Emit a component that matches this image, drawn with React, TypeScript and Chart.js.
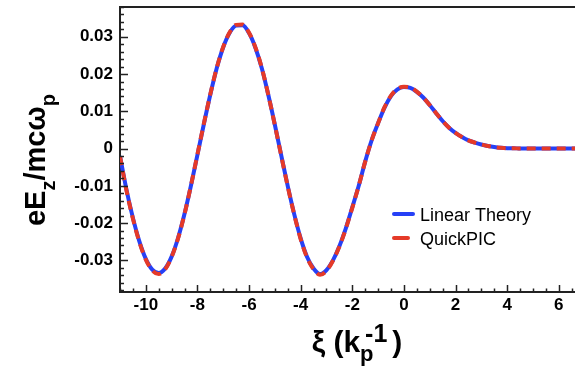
import { useEffect, useRef } from "react";
import { Chart, registerables } from "chart.js";

Chart.register(...registerables);

// Longitudinal position xi (units of 1/kp)
const xi = [
  -11, -10.75, -10.5, -10.25, -10, -9.75, -9.5, -9.25, -9, -8.75, -8.5, -8.25,
  -8, -7.75, -7.5, -7.25, -7, -6.75, -6.5, -6.25, -6, -5.75, -5.5, -5.25,
  -5, -4.75, -4.5, -4.25, -4, -3.75, -3.5, -3.25, -3, -2.75, -2.5, -2.25,
  -2, -1.75, -1.5, -1.25, -1, -0.75, -0.5, -0.25, 0, 0.25, 0.5, 0.75,
  1, 1.25, 1.5, 1.75, 2, 2.25, 2.5, 2.75, 3, 3.25, 3.5, 3.75,
  4, 4.25, 4.5, 4.75, 5, 5.25, 5.5, 5.75, 6, 6.25, 6.5, 6.75,
];

// Normalised longitudinal field eEz/mcωp
const linearTheory = [
  -0.002, -0.011, -0.0186, -0.0249, -0.0296, -0.0325, -0.0334, -0.0322, -0.029, -0.024, -0.0175, -0.0099,
  -0.0017, 0.0066, 0.0145, 0.0216, 0.0272, 0.0311, 0.033, 0.0331, 0.031, 0.027, 0.0214, 0.0143,
  0.0064, -0.0019, -0.0101, -0.0176, -0.0241, -0.0291, -0.0322, -0.0337, -0.0326, -0.03, -0.0262, -0.0214,
  -0.0158, -0.01, -0.0035, 0.0022, 0.0068, 0.011, 0.0141, 0.0159, 0.0165, 0.0163, 0.0152, 0.0137,
  0.0117, 0.0095, 0.0074, 0.0056, 0.0042, 0.0031, 0.0022, 0.0016, 0.0011, 0.0007, 0.0004, 0.0002,
  0.0001, 0.0001, 0, 0, 0, 0, 0, 0, 0, 0, 0, 0,
];

const quickPIC = [
  -0.0021, -0.0112, -0.0188, -0.0251, -0.0298, -0.0327, -0.0337, -0.0324, -0.0291, -0.0241, -0.0176, -0.0099,
  -0.0016, 0.0067, 0.0146, 0.0217, 0.0273, 0.0312, 0.0332, 0.0333, 0.0311, 0.0271, 0.0215, 0.0143,
  0.0063, -0.002, -0.0102, -0.0177, -0.0243, -0.0293, -0.0324, -0.0339, -0.0328, -0.0301, -0.0263, -0.0215,
  -0.0159, -0.01, -0.0035, 0.0022, 0.0068, 0.0111, 0.0142, 0.016, 0.0166, 0.0164, 0.0153, 0.0137,
  0.0117, 0.0095, 0.0074, 0.0056, 0.0042, 0.0031, 0.0022, 0.0016, 0.0011, 0.0007, 0.0004, 0.0002,
  0.0001, 0.0001, 0, 0, 0, 0, 0, 0, 0, 0, 0, 0,
];

const seriesNames = ["Linear Theory", "QuickPIC"];
const xTickValues = [-10, -8, -6, -4, -2, 0, 2, 4, 6];
const yTickValues = [-0.03, -0.02, -0.01, 0, 0.01, 0.02, 0.03];

const X_MIN = -11;
const X_MAX = 6.63;
const Y_MIN = -0.0385;
const Y_MAX = 0.038;

const BLUE = "rgb(38, 64, 246)";
const RED = "rgb(229, 58, 40)";
const AXIS = "#222";
const FONT = '"Liberation Sans", Arial, Helvetica, sans-serif';

type Piece = { t: string; size: number; dy: number; x: number };

// Lays out a label made of main text, subscripts and superscripts.
function drawPieces(ctx: CanvasRenderingContext2D, pieces: Piece[]) {
  for (const p of pieces) {
    ctx.font = `bold ${p.size}px ${FONT}`;
    ctx.fillText(p.t, p.x, p.dy);
  }
}

const decorations = {
  id: "decorations",
  afterDraw(chart: any) {
    const { ctx, chartArea: a, scales } = chart;
    const xs = scales.x;
    const ys = scales.y;
    ctx.save();

    // top frame line
    ctx.strokeStyle = AXIS;
    ctx.lineWidth = 2;
    ctx.beginPath();
    ctx.moveTo(a.left - 1, a.top);
    ctx.lineTo(a.right + 2, a.top);
    ctx.stroke();

    // inward tick marks
    ctx.lineWidth = 1.5;
    ctx.beginPath();
    for (let k = -22; k <= 13; k++) {
      const v = k / 2;
      if (v < X_MIN || v > X_MAX) continue;
      const px = Math.round(xs.getPixelForValue(v)) + 0.5;
      const len = xTickValues.includes(v) ? 7 : 3.5;
      ctx.moveTo(px, a.bottom);
      ctx.lineTo(px, a.bottom - len);
    }
    for (let k = -19; k <= 19; k++) {
      const v = k / 500;
      if (v < Y_MIN || v > Y_MAX) continue;
      const py = Math.round(ys.getPixelForValue(v)) + 0.5;
      const len = k % 5 === 0 ? 8 : 4;
      ctx.moveTo(a.left, py);
      ctx.lineTo(a.left + len, py);
    }
    ctx.stroke();

    // x-axis title: ξ (kp^-1)
    ctx.fillStyle = "#000";
    ctx.textBaseline = "alphabetic";
    ctx.textAlign = "left";
    {
      const main = 30;
      const sub = 22;
      const sup = 25;
      ctx.font = `bold ${main}px ${FONT}`;
      const w1 = ctx.measureText("ξ (k").width;
      const w2 = ctx.measureText(")").width;
      ctx.font = `bold ${sub}px ${FONT}`;
      const ws = ctx.measureText("p").width;
      ctx.font = `bold ${sup}px ${FONT}`;
      const wsup = ctx.measureText("-1").width;
      const gap = Math.max(ws, 5 + wsup) + 5;
      const total = w1 + gap + w2;
      const x0 = 357 - total / 2;
      ctx.save();
      ctx.translate(0, 352);
      drawPieces(ctx, [
        { t: "ξ (k", size: main, dy: 0, x: x0 },
        { t: "p", size: sub, dy: 9, x: x0 + w1 },
        { t: "-1", size: sup, dy: -10, x: x0 + w1 + 5 },
        { t: ")", size: main, dy: 0, x: x0 + w1 + gap },
      ]);
      ctx.restore();
    }

    // y-axis title: eEz/mcωp
    {
      const main = 29;
      const small = 20;
      ctx.font = `bold ${main}px ${FONT}`;
      const wa = ctx.measureText("eE").width;
      const wb = ctx.measureText("/mcω").width;
      ctx.font = `bold ${small}px ${FONT}`;
      const wz = ctx.measureText("z").width;
      const wp = ctx.measureText("p").width;
      const total = wa + wz + wb + wp;
      const x0 = -total / 2;
      ctx.save();
      ctx.translate(45, 160);
      ctx.rotate(-Math.PI / 2);
      drawPieces(ctx, [
        { t: "eE", size: main, dy: 0, x: x0 },
        { t: "z", size: small, dy: 10, x: x0 + wa },
        { t: "/mcω", size: main, dy: 0, x: x0 + wa + wz },
        { t: "p", size: small, dy: 10, x: x0 + wa + wz + wb },
      ]);
      ctx.restore();
    }

    // legend
    const legendRows = [
      { name: seriesNames[0], color: BLUE, y: 214, x2: 413 },
      { name: seriesNames[1], color: RED, y: 238, x2: 408 },
    ];
    ctx.font = `18px ${FONT}`;
    for (const row of legendRows) {
      ctx.strokeStyle = row.color;
      ctx.lineWidth = 4;
      ctx.lineCap = "round";
      ctx.beginPath();
      ctx.moveTo(394, row.y);
      ctx.lineTo(row.x2, row.y);
      ctx.stroke();
      ctx.fillStyle = "#000";
      ctx.fillText(row.name, 420, row.y + 7);
    }

    ctx.restore();
  },
};

export default function App() {
  const canvasRef = useRef<HTMLCanvasElement | null>(null);

  useEffect(() => {
    const canvas = canvasRef.current;
    if (!canvas) return;
    const toPoints = (ys: number[]) => xi.map((x, i) => ({ x, y: ys[i] }));
    const chart = new Chart(canvas, {
      type: "line",
      data: {
        datasets: [
          {
            label: seriesNames[0],
            data: toPoints(linearTheory),
            borderColor: BLUE,
            borderWidth: 4,
            pointRadius: 0,
            cubicInterpolationMode: "monotone",
            order: 2,
          },
          {
            label: seriesNames[1],
            data: toPoints(quickPIC),
            borderColor: RED,
            borderWidth: 4,
            borderDash: [9, 6],
            pointRadius: 0,
            cubicInterpolationMode: "monotone",
            order: 1,
          },
        ],
      },
      options: {
        animation: false,
        responsive: false,
        maintainAspectRatio: false,
        layout: { padding: { top: 7, right: 0, left: 0, bottom: 0 } },
        plugins: { legend: { display: false }, tooltip: { enabled: false } },
        scales: {
          x: {
            type: "linear",
            min: X_MIN,
            max: X_MAX,
            afterBuildTicks: (s: any) => {
              s.ticks = xTickValues.map((value) => ({ value }));
            },
            afterFit: (s: any) => {
              s.height = 74;
              s.paddingLeft = 0;
              s.paddingRight = 0;
            },
            grid: { display: true, drawOnChartArea: false, drawTicks: false },
            border: { display: true, color: AXIS, width: 2 },
            ticks: {
              padding: 3,
              color: "#000",
              font: { family: FONT, size: 17, weight: "bold" },
              maxRotation: 0,
              autoSkip: false,
              callback: (v: any) => String(v),
            },
          },
          y: {
            type: "linear",
            min: Y_MIN,
            max: Y_MAX,
            afterBuildTicks: (s: any) => {
              s.ticks = yTickValues.map((value) => ({ value }));
            },
            afterFit: (s: any) => {
              s.width = 120;
              s.paddingTop = 0;
              s.paddingBottom = 0;
            },
            grid: { display: true, drawOnChartArea: false, drawTicks: false },
            border: { display: true, color: AXIS, width: 2 },
            ticks: {
              padding: 7,
              color: "#000",
              font: { family: FONT, size: 17, weight: "bold" },
              autoSkip: false,
              callback: (v: any) => (v === 0 ? "0" : Number(v).toFixed(2)),
            },
          },
        },
      },
      plugins: [decorations],
    });
    return () => chart.destroy();
  }, []);

  return (
    <div style={{ position: "fixed", left: 0, top: 0, width: 575, height: 366, background: "#fff" }}>
      <canvas ref={canvasRef} width={575} height={366} style={{ display: "block" }} />
    </div>
  );
}
